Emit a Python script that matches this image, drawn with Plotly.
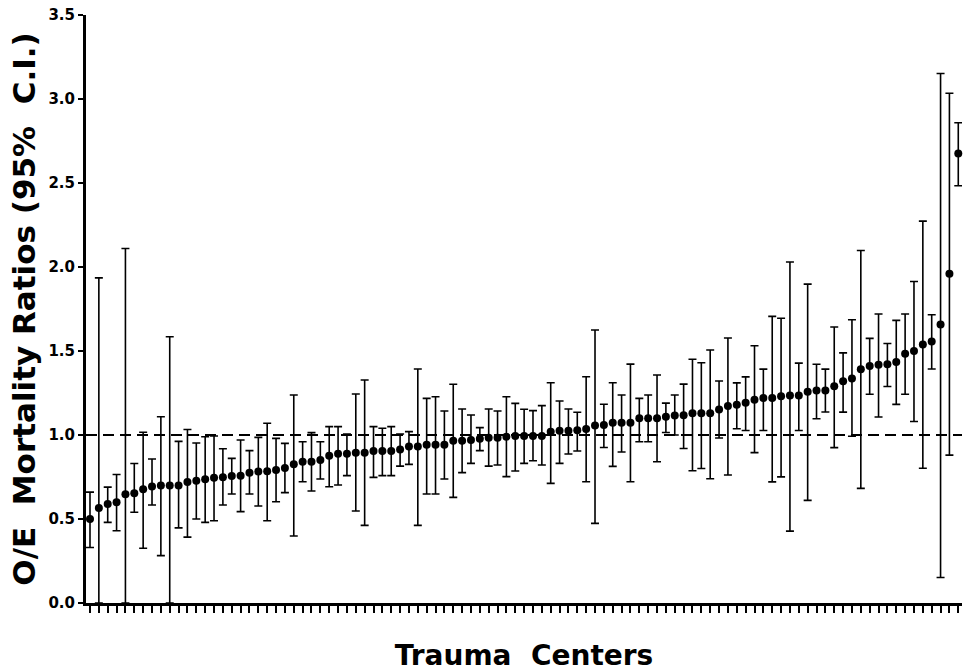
import plotly.graph_objects as go

# O/E mortality ratio per trauma center (sorted), with 95% CI bounds
oe_ratio = [0.50, 0.565, 0.59, 0.60, 0.647, 0.653, 0.677, 0.694, 0.70, 0.70,
            0.70, 0.72, 0.728, 0.737, 0.746, 0.748, 0.756, 0.758, 0.776, 0.782,
            0.784, 0.792, 0.803, 0.826, 0.841, 0.841, 0.851, 0.877, 0.889, 0.889,
            0.895, 0.895, 0.905, 0.905, 0.905, 0.913, 0.931, 0.931, 0.942, 0.942,
            0.942, 0.966, 0.966, 0.97, 0.978, 0.984, 0.984, 0.99, 0.994, 0.994,
            0.994, 0.994, 1.02, 1.026, 1.026, 1.028, 1.036, 1.057, 1.06, 1.073,
            1.073, 1.073, 1.099, 1.099, 1.099, 1.109, 1.116, 1.117, 1.129, 1.129,
            1.13, 1.152, 1.172, 1.18, 1.192, 1.21, 1.22, 1.22, 1.23, 1.235,
            1.235, 1.258, 1.265, 1.265, 1.29, 1.32, 1.337, 1.392, 1.41, 1.418,
            1.421, 1.434, 1.483, 1.50, 1.539, 1.557, 1.657, 1.96, 2.675]

ci_lower = [0.33, 0.0, 0.48, 0.43, 0.0, 0.54, 0.326, 0.583, 0.282, 0.0,
            0.447, 0.392, 0.50, 0.48, 0.49, 0.583, 0.649, 0.544, 0.649, 0.577,
            0.49, 0.603, 0.657, 0.399, 0.722, 0.667, 0.738, 0.692, 0.702, 0.758,
            0.548, 0.462, 0.748, 0.758, 0.758, 0.815, 0.825, 0.462, 0.649, 0.649,
            0.738, 0.629, 0.776, 0.831, 0.907, 0.815, 0.821, 0.752, 0.786, 0.831,
            0.847, 0.821, 0.712, 0.831, 0.887, 0.905, 0.722, 0.474, 0.926, 0.813,
            0.899, 0.722, 0.96, 0.96, 0.841, 1.015, 1.0, 0.92, 0.787, 0.801,
            0.74, 0.982, 0.762, 1.037, 1.027, 0.895, 1.027, 0.721, 0.751, 0.428,
            1.027, 0.611, 1.097, 1.137, 0.925, 1.136, 0.993, 0.682, 1.243, 1.107,
            1.289, 1.182, 1.243, 1.08, 0.802, 1.393, 0.152, 0.88, 2.484]

ci_upper = [0.66, 1.935, 0.69, 0.765, 2.11, 0.83, 1.016, 0.857, 1.109, 1.585,
            0.962, 1.033, 0.952, 0.99, 0.994, 0.918, 0.861, 0.97, 0.907, 0.986,
            1.07, 0.98, 0.95, 1.238, 0.96, 1.014, 0.96, 1.05, 1.05, 1.006,
            1.244, 1.327, 1.05, 1.04, 1.05, 1.006, 1.02, 1.393, 1.218, 1.228,
            1.143, 1.302, 1.155, 1.119, 1.044, 1.155, 1.143, 1.228, 1.188, 1.153,
            1.145, 1.175, 1.311, 1.202, 1.155, 1.135, 1.347, 1.625, 1.183, 1.311,
            1.238, 1.422, 1.218, 1.238, 1.357, 1.19, 1.238, 1.303, 1.451, 1.43,
            1.506, 1.321, 1.577, 1.31, 1.346, 1.531, 1.392, 1.706, 1.695, 2.03,
            1.428, 1.898, 1.421, 1.392, 1.643, 1.489, 1.686, 2.098, 1.575, 1.72,
            1.545, 1.682, 1.72, 1.914, 2.273, 1.716, 3.152, 3.034, 2.859]

centers = list(range(1, len(oe_ratio) + 1))
reference_ratio = 1.0
y_ticks = [0.0, 0.5, 1.0, 1.5, 2.0, 2.5, 3.0, 3.5]

err_plus = [u - v for u, v in zip(ci_upper, oe_ratio)]
err_minus = [v - l for v, l in zip(oe_ratio, ci_lower)]

FONT = "DejaVu Sans"

fig = go.Figure()
fig.add_hline(y=reference_ratio, line=dict(color="black", width=2.2, dash="11px,6px"), layer="below")
fig.add_trace(go.Scatter(
    x=centers, y=oe_ratio, mode="markers",
    marker=dict(color="black", size=8),
    error_y=dict(type="data", symmetric=False, array=err_plus, arrayminus=err_minus,
                 color="black", thickness=1.6, width=4),
    cliponaxis=False, showlegend=False,
))

fig.update_layout(
    width=963, height=672,
    margin=dict(l=86, r=1, t=15, b=69),
    plot_bgcolor="white", paper_bgcolor="white",
    font=dict(family=FONT, color="black"),
)
fig.update_xaxes(
    range=[0.55, 99.42], tickvals=centers, showticklabels=False,
    ticks="outside", ticklen=7, tickwidth=2, tickcolor="black",
    showline=True, linecolor="black", linewidth=3, showgrid=False, zeroline=False,
    title=dict(text="Trauma  Centers", font=dict(family=FONT, size=28, weight="bold"), standoff=34),
)
fig.update_yaxes(
    range=[0, 3.5], tickvals=y_ticks, tickformat=".1f",
    ticks="outside", ticklen=5, tickwidth=2, tickcolor="black",
    tickfont=dict(family=FONT, size=15, weight="bold"),
    showline=True, linecolor="black", linewidth=3, showgrid=False, zeroline=False,
    title=dict(text="O/E  Mortality Ratios (95%  C.I.)", font=dict(family=FONT, size=31, weight="bold"), standoff=4),
)

# remove the default page margin so the 963x672 figure fills the window exactly
fig.write_html(
    "out.html",
    config={"displayModeBar": False},
    post_script="document.body.style.margin='0';document.body.style.overflow='hidden';",
)
